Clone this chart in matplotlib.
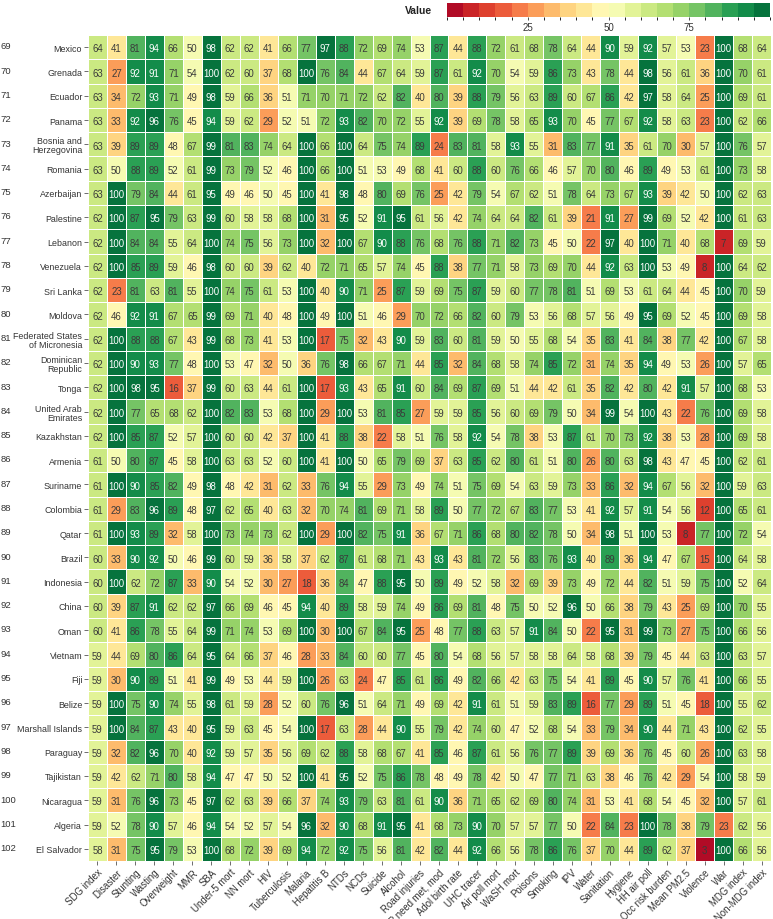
import numpy as np
import matplotlib.pyplot as plt
from matplotlib.colors import BoundaryNorm, ListedColormap
from matplotlib.transforms import blended_transform_factory

plt.rcParams['font.family'] = ['Liberation Sans', 'DejaVu Sans']

indicators = ["SDG index", "Disaster", "Stunting", "Wasting", "Overweight", "MMR", "SBA",
              "Under-5 mort", "NN mort", "HIV", "Tuberculosis", "Malaria", "Hepatitis B",
              "NTDs", "NCDs", "Suicide", "Alcohol", "Road injuries", "FP need met, mod",
              "Adol birth rate", "UHC tracer", "Air poll mort", "WaSH mort", "Poisons",
              "Smoking", "IPV", "Water", "Sanitation", "Hygiene", "HH air poll",
              "Occ risk burden", "Mean PM2.5", "Violence", "War", "MDG index", "Non-MDG index"]

ranks = list(range(69, 103))
countries = ["Mexico", "Grenada", "Ecuador", "Panama", "Bosnia and\nHerzegovina", "Romania",
             "Azerbaijan", "Palestine", "Lebanon", "Venezuela", "Sri Lanka", "Moldova",
             "Federated States\nof Micronesia", "Dominican\nRepublic", "Tonga",
             "United Arab\nEmirates", "Kazakhstan", "Armenia", "Suriname", "Colombia",
             "Qatar", "Brazil", "Indonesia", "China", "Oman", "Vietnam", "Fiji", "Belize",
             "Marshall Islands", "Paraguay", "Tajikistan", "Nicaragua", "Algeria", "El Salvador"]

mexico = [64, 41, 81, 94, 66, 50, 98, 62, 62, 41, 66, 77, 97, 88, 72, 69, 74, 53, 87, 44, 88, 72, 61, 68, 78, 64, 44, 90, 59, 92, 57, 53, 23, 100, 68, 64]
grenada = [63, 27, 92, 91, 71, 54, 100, 62, 60, 37, 68, 100, 76, 84, 44, 67, 64, 59, 87, 61, 92, 70, 54, 59, 86, 73, 43, 78, 44, 98, 56, 61, 36, 100, 70, 61]
ecuador = [63, 34, 72, 93, 71, 49, 98, 59, 66, 36, 51, 71, 70, 71, 72, 62, 82, 40, 80, 39, 88, 79, 56, 63, 89, 60, 67, 86, 42, 97, 58, 64, 25, 100, 69, 61]
panama = [63, 33, 92, 96, 76, 45, 94, 59, 62, 29, 52, 51, 72, 93, 82, 70, 72, 55, 92, 39, 69, 78, 58, 65, 93, 70, 45, 77, 67, 92, 58, 63, 23, 100, 62, 66]
bosnia = [63, 39, 89, 89, 48, 67, 99, 81, 83, 74, 64, 100, 66, 100, 64, 75, 74, 89, 24, 83, 81, 58, 93, 55, 31, 83, 77, 91, 35, 61, 70, 30, 57, 100, 76, 57]
romania = [63, 50, 88, 89, 52, 61, 99, 73, 79, 52, 46, 100, 66, 100, 51, 53, 49, 68, 41, 60, 88, 60, 76, 66, 46, 57, 70, 80, 46, 89, 49, 53, 61, 100, 73, 58]
azerbaijan = [63, 100, 79, 84, 44, 61, 95, 49, 46, 50, 45, 100, 41, 98, 48, 80, 69, 76, 25, 42, 79, 54, 67, 62, 51, 78, 64, 73, 67, 93, 39, 42, 50, 100, 62, 63]
palestine = [62, 100, 87, 95, 79, 63, 99, 60, 58, 58, 68, 100, 31, 95, 52, 91, 95, 61, 56, 42, 74, 64, 64, 82, 61, 39, 21, 91, 27, 99, 69, 52, 42, 100, 61, 63]
lebanon = [62, 100, 84, 84, 55, 64, 100, 74, 75, 56, 73, 100, 32, 100, 67, 90, 88, 76, 68, 76, 88, 71, 82, 73, 45, 50, 22, 97, 40, 100, 71, 40, 68, 7, 69, 59]
venezuela = [62, 100, 85, 89, 59, 46, 98, 60, 60, 39, 62, 40, 72, 71, 65, 57, 74, 45, 88, 38, 77, 71, 58, 73, 69, 70, 44, 92, 63, 100, 53, 49, 8, 100, 64, 62]
sri_lanka = [62, 23, 81, 63, 81, 55, 100, 74, 75, 61, 53, 100, 40, 90, 71, 25, 87, 59, 69, 75, 87, 59, 60, 77, 78, 81, 51, 69, 53, 61, 64, 44, 45, 100, 70, 59]
moldova = [62, 46, 92, 91, 67, 65, 99, 69, 71, 40, 48, 100, 49, 100, 51, 46, 29, 70, 72, 66, 82, 60, 79, 53, 56, 68, 57, 56, 49, 95, 69, 52, 45, 100, 69, 58]
micronesia = [62, 100, 88, 88, 67, 43, 99, 68, 73, 41, 53, 100, 17, 75, 32, 43, 90, 59, 83, 60, 81, 59, 50, 55, 68, 54, 35, 83, 41, 84, 38, 77, 42, 100, 67, 58]
dominican = [62, 100, 90, 93, 77, 48, 100, 53, 47, 32, 50, 36, 76, 98, 66, 67, 71, 44, 85, 32, 84, 68, 58, 74, 85, 72, 31, 74, 35, 94, 49, 53, 26, 100, 57, 65]
tonga = [62, 100, 98, 95, 16, 37, 99, 60, 63, 44, 61, 100, 17, 93, 43, 65, 91, 60, 84, 69, 87, 69, 51, 44, 42, 61, 35, 82, 42, 80, 42, 91, 57, 100, 68, 53]
uae = [62, 100, 77, 65, 68, 62, 100, 82, 83, 53, 68, 100, 29, 100, 53, 81, 85, 27, 59, 59, 85, 56, 60, 69, 79, 50, 34, 99, 54, 100, 43, 22, 76, 100, 69, 58]
kazakhstan = [62, 100, 85, 87, 52, 57, 100, 60, 60, 42, 37, 100, 41, 88, 38, 22, 58, 51, 76, 58, 92, 54, 78, 38, 53, 87, 61, 70, 73, 92, 38, 53, 28, 100, 69, 58]
armenia = [61, 50, 80, 87, 45, 58, 100, 63, 63, 52, 60, 100, 41, 100, 50, 65, 79, 69, 37, 63, 85, 62, 80, 61, 51, 80, 26, 80, 63, 98, 43, 47, 45, 100, 62, 61]
suriname = [61, 100, 90, 85, 82, 49, 98, 48, 42, 31, 62, 33, 76, 94, 55, 29, 73, 49, 74, 51, 75, 69, 54, 63, 59, 73, 33, 86, 32, 94, 67, 56, 32, 100, 59, 63]
colombia = [61, 29, 83, 96, 89, 48, 97, 62, 65, 40, 63, 32, 70, 74, 81, 69, 71, 58, 89, 50, 77, 72, 67, 83, 77, 53, 41, 92, 57, 91, 54, 56, 12, 100, 65, 61]
qatar = [61, 100, 93, 89, 32, 58, 100, 73, 74, 73, 62, 100, 29, 100, 82, 75, 91, 36, 67, 71, 86, 68, 80, 82, 78, 50, 34, 98, 51, 100, 53, 8, 77, 100, 72, 54]
brazil = [60, 33, 90, 92, 50, 46, 99, 60, 59, 36, 58, 37, 62, 87, 61, 68, 71, 43, 93, 43, 81, 72, 56, 83, 76, 93, 40, 89, 36, 94, 47, 67, 15, 100, 64, 58]
indonesia = [60, 100, 62, 72, 87, 33, 90, 54, 52, 30, 27, 18, 36, 84, 47, 88, 95, 50, 89, 49, 52, 58, 32, 69, 39, 73, 49, 72, 44, 82, 51, 59, 75, 100, 52, 64]
china = [60, 39, 87, 91, 62, 62, 97, 66, 69, 46, 45, 94, 40, 89, 58, 59, 74, 49, 86, 69, 81, 48, 75, 50, 52, 96, 50, 66, 38, 79, 43, 25, 69, 100, 70, 55]
oman = [60, 41, 86, 78, 55, 64, 99, 71, 74, 53, 69, 100, 30, 100, 67, 84, 95, 25, 48, 77, 88, 63, 57, 91, 84, 50, 22, 95, 31, 99, 73, 27, 75, 100, 66, 56]
vietnam = [59, 44, 69, 80, 86, 64, 95, 64, 66, 37, 46, 28, 33, 84, 60, 60, 77, 45, 80, 54, 68, 56, 57, 58, 58, 64, 58, 68, 39, 79, 45, 44, 63, 100, 63, 57]
fiji = [59, 30, 90, 89, 51, 41, 99, 49, 53, 44, 59, 100, 26, 63, 24, 47, 85, 61, 86, 49, 82, 66, 42, 63, 75, 54, 41, 89, 45, 90, 57, 76, 41, 100, 66, 55]
belize = [59, 100, 75, 90, 74, 55, 98, 61, 59, 28, 52, 60, 76, 96, 51, 64, 71, 49, 69, 42, 91, 61, 51, 59, 83, 89, 16, 77, 29, 89, 51, 45, 18, 100, 55, 62]
marshall = [59, 100, 84, 87, 43, 40, 95, 59, 63, 45, 54, 100, 17, 63, 28, 44, 90, 55, 79, 42, 74, 60, 47, 52, 68, 54, 33, 79, 34, 90, 44, 71, 43, 100, 62, 55]
paraguay = [59, 32, 82, 96, 70, 40, 92, 59, 57, 35, 56, 69, 62, 88, 58, 68, 67, 41, 85, 46, 87, 61, 56, 76, 77, 89, 39, 69, 36, 76, 45, 60, 26, 100, 63, 58]
tajikistan = [59, 42, 62, 71, 80, 58, 94, 47, 47, 50, 52, 100, 41, 95, 52, 75, 86, 78, 48, 49, 78, 42, 50, 47, 77, 71, 63, 38, 46, 76, 42, 29, 54, 100, 58, 59]
nicaragua = [59, 31, 76, 96, 73, 45, 97, 62, 63, 39, 66, 37, 74, 93, 79, 63, 81, 61, 90, 36, 71, 65, 62, 69, 80, 74, 31, 53, 41, 68, 54, 45, 32, 100, 57, 61]
algeria = [59, 52, 78, 90, 57, 46, 94, 54, 52, 57, 54, 96, 32, 90, 68, 91, 95, 41, 68, 73, 90, 70, 57, 57, 77, 50, 22, 84, 23, 100, 78, 38, 79, 23, 62, 56]
el_salvador = [58, 31, 75, 95, 79, 53, 100, 68, 72, 39, 69, 94, 72, 92, 75, 56, 81, 42, 82, 44, 92, 66, 56, 78, 86, 76, 37, 70, 44, 89, 62, 37, 3, 100, 66, 56]

rows = [mexico, grenada, ecuador, panama, bosnia, romania, azerbaijan, palestine, lebanon,
        venezuela, sri_lanka, moldova, micronesia, dominican, tonga, uae, kazakhstan, armenia,
        suriname, colombia, qatar, brazil, indonesia, china, oman, vietnam, fiji, belize,
        marshall, paraguay, tajikistan, nicaragua, algeria, el_salvador]
data = np.array(rows)
nrow, ncol = data.shape

# discrete red-yellow-green scale, 20 steps
levels = np.linspace(0, 100, 21)
base = plt.get_cmap('RdYlGn')
cmap = ListedColormap(base(np.linspace(0.025, 0.975, 20)))
norm = BoundaryNorm(levels, cmap.N)

W, H = 773, 920
fig = plt.figure(figsize=(W / 100, H / 100), dpi=100)
ax = fig.add_axes([88 / W, 1 - 862 / H, 683 / W, 826 / H])

ax.pcolormesh(np.arange(ncol + 1), np.arange(nrow + 1), data, cmap=cmap, norm=norm,
              edgecolors='white', linewidth=0.7)
ax.set_xlim(0, ncol)
ax.set_ylim(nrow, 0)

txt = '#3a3a3a'
for i in range(nrow):
    for j in range(ncol):
        v = data[i, j]
        ax.text(j + 0.5, i + 0.55, str(v), ha='center', va='center', fontsize=6.9,
                color='white' if v >= 90 else txt)

for s in ax.spines.values():
    s.set_visible(False)

ax.set_xticks(np.arange(ncol) + 0.5)
ax.set_xticklabels(indicators, rotation=45, ha='right', rotation_mode='anchor',
                   fontsize=6.9, color='#333333')
ax.set_yticks(np.arange(nrow) + 0.5)
ax.set_yticklabels(countries, fontsize=6.4, color='#333333', linespacing=1.0)
ax.tick_params(axis='both', length=3, width=0.6, color='#555555', pad=1.2)

# rank numbers at the far left
rank_tr = blended_transform_factory(fig.transFigure, ax.transData)
for i, r in enumerate(ranks):
    ax.text(0.5 / W, i + 0.45, str(r), transform=rank_tr, ha='left', va='center',
            fontsize=6.8, color='#333333')

# colour bar at top right
cax = fig.add_axes([447 / W, 1 - 18 / H, 323 / W, 14 / H])
sm = plt.cm.ScalarMappable(cmap=cmap, norm=norm)
cb = fig.colorbar(sm, cax=cax, orientation='horizontal', ticks=[25, 50, 75])
cb.outline.set_visible(False)
cb.ax.tick_params(labelsize=7, length=2.5, width=0.6, pad=1, colors='#333333')
fig.text(405 / W, 1 - 11 / H, 'Value', fontsize=7.5, fontweight='bold', va='center',
         ha='left', color='#222222')

fig.savefig('out.png', dpi=100)
